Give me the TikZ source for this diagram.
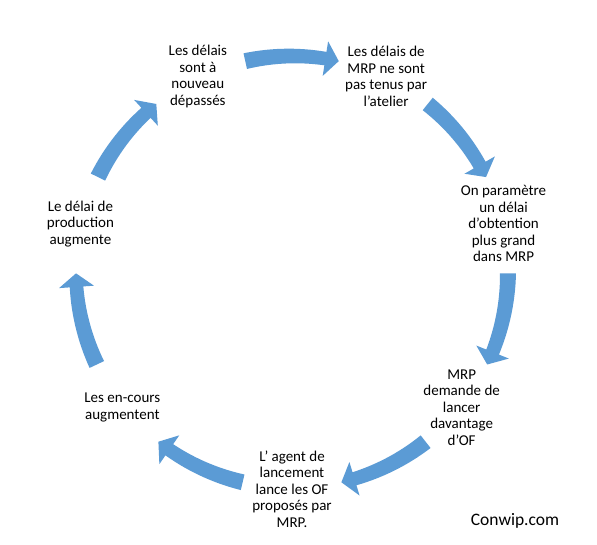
\documentclass[tikz,border=0pt]{standalone}
\usepackage{fontspec}
\setmainfont{Carlito}
\definecolor{smartblue}{HTML}{5B9BD5}
\tikzset{
  arrowfill/.style={fill=smartblue},
  cyctext/.style={align=center, inner sep=0pt, font=\fontsize{15pt}{16.5pt}\selectfont, text=black},
  srctext/.style={inner sep=0pt, font=\fontsize{17.5pt}{19pt}\selectfont, text=black}
}
\newcommand{\cyclearrow}[1]{%
  \pgfmathsetmacro\aA{#1+12.5}%
  \pgfmathsetmacro\aB{#1-12.5}%
  \pgfmathsetmacro\aH{#1-12.5+3.6}%
  \fill[arrowfill] plot[domain=\aA:\aH,samples=16] (\x:{216+8-1.2*(\aA-\x)/(\aA-\aH)})
    -- (\aH:216+17.5) -- (\aB:216) -- (\aH:216-17.5)
    -- plot[domain=\aH:\aA,samples=16] (\x:{216-8+1.2*(\aA-\x)/(\aA-\aH)}) -- cycle;
}
\begin{document}
\begin{tikzpicture}[x=1pt,y=1pt]
\fill[white] (0,0) rectangle (597,544);
\useasboundingbox (0,0) rectangle (597,544);
\begin{scope}[shift={(292,272)}]
  \foreach \k in {0,...,6} {
    \pgfmathsetmacro\cc{90-\k*51.4286}
    \cyclearrow{\cc}
  }
  \node[cyctext] (n1) at (115.714:217) {Les délais\\sont à\\nouveau\\dépassés};
  \node[cyctext] (n2) at (64.286:217) {Les délais de\\MRP ne sont\\pas tenus par\\l’atelier};
  \node[cyctext] (n3) at (12.857:217) {On paramètre\\un délai\\d’obtention\\plus grand\\dans MRP};
  \node[cyctext] (n4) at (-38.571:217) {MRP\\demande de\\lancer\\davantage\\d’OF};
  \node[cyctext] (n5) at (-90:217) {L’ agent de\\lancement\\lance les OF\\proposés par\\MRP.};
  \node[cyctext] (n6) at (-141.429:217) {Les en-cours\\augmentent};
  \node[cyctext] (n7) at (167.143:217) {Le délai de\\production\\augmente};
\end{scope}
\node[srctext] (src) at (515,23) {Conwip.com};
\end{tikzpicture}
\end{document}
